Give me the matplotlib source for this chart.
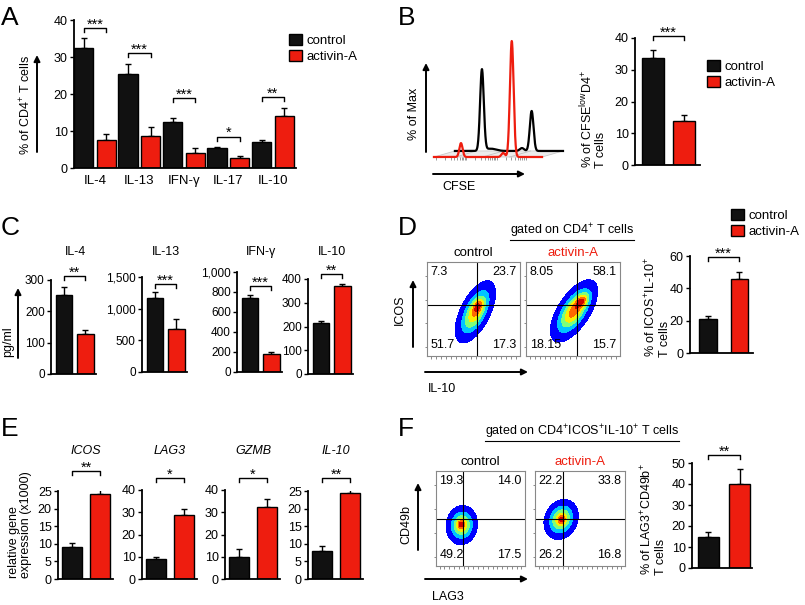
import numpy as np
import matplotlib.pyplot as plt
from matplotlib.patches import Patch, Polygon, FancyArrowPatch
from matplotlib.lines import Line2D

plt.rcParams['font.family'] = ['Liberation Sans', 'DejaVu Sans']
plt.rcParams['mathtext.fontset'] = 'custom'
plt.rcParams['mathtext.rm'] = 'Liberation Sans'
plt.rcParams['mathtext.it'] = 'Liberation Sans:italic'
plt.rcParams['mathtext.bf'] = 'Liberation Sans:bold'

BLACK = '#111111'
RED = '#ee1d0f'
W, H = 805, 605

# ---------------- data ----------------
# A : % of CD4+ T cells
cytokines = ['IL-4', 'IL-13', 'IFN-γ', 'IL-17', 'IL-10']
a_ctrl = [32.3, 25.3, 12.3, 5.3, 7.0]
a_ctrl_err = [2.9, 2.7, 1.3, 0.4, 0.6]
a_act = [7.7, 8.7, 4.0, 2.8, 14.0]
a_act_err = [1.4, 2.3, 1.4, 0.4, 2.3]
a_sig = ['***', '***', '***', '*', '**']
a_sig_y = [37.8, 31.0, 19.0, 8.5, 19.3]

# B : CFSE histograms (peak centre, height, width) and bars
red_peaks = [(25, 12, 1.5), (64, 3.5, 1.6), (72, 100, 1.7)]
black_peaks = [(25, 70, 1.7), (33, 2.0, 5.0), (62, 2.5, 2.0), (71, 34.5, 1.7)]
black_shift = (19.4, 5.2)
b_vals = [33.7, 14.0]
b_err = [2.4, 1.6]
b_sig, b_sig_y = '***', 40.7

# C : pg/ml
c_titles = ['IL-4', 'IL-13', 'IFN-γ', 'IL-10']
c_ctrl = [252, 1172, 740, 215]
c_ctrl_err = [25, 90, 30, 10]
c_act = [128, 678, 180, 372]
c_act_err = [14, 160, 20, 6]
c_sig = ['**', '***', '***', '**']
c_sig_y = [313, 1390, 860, 421]
c_ymax = [300, 1500, 1000, 400]
c_ticks = [[0, 100, 200, 300], [0, 500, 1000, 1500],
           [0, 200, 400, 600, 800, 1000], [0, 100, 200, 300, 400]]

# D : ICOS vs IL-10 flow (quadrant %) and bars
d_ctrl_q = ['7.3', '23.7', '51.7', '17.3']
d_act_q = ['8.05', '58.1', '18.15', '15.7']
d_vals = [21.2, 45.9]
d_err = [1.8, 4.5]
d_sig, d_sig_y = '***', 59.6

# E : relative gene expression (x1000)
e_titles = ['ICOS', 'LAG3', 'GZMB', 'IL-10']
e_ctrl = [9.0, 9.0, 10.1, 8.0]
e_ctrl_err = [1.3, 1.1, 3.5, 1.3]
e_act = [24.1, 28.8, 32.5, 24.3]
e_act_err = [1.6, 2.5, 3.6, 1.2]
e_sig = ['**', '*', '*', '**']
e_sig_y = [30.6, 45.5, 45.5, 28.8]
e_ymax = [25, 40, 40, 25]
e_ticks = [[0, 5, 10, 15, 20, 25], [0, 10, 20, 30, 40],
           [0, 10, 20, 30, 40], [0, 5, 10, 15, 20, 25]]

# F : CD49b vs LAG3 flow and bars
f_ctrl_q = ['19.3', '14.0', '49.2', '17.5']
f_act_q = ['22.2', '33.8', '26.2', '16.8']
f_vals = [15.0, 40.1]
f_err = [2.1, 7.0]
f_sig, f_sig_y = '**', 53.6

# flow blobs: (cx, cy, sigma_major, sigma_minor, angle, weight)
d_ctrl_blob = [(0.52, 0.47, 0.16, 0.07, 63, 1.0), (0.55, 0.53, 0.05, 0.03, 60, 0.35)]
d_act_blob = [(0.51, 0.48, 0.165, 0.074, 57, 1.0), (0.60, 0.59, 0.06, 0.035, 50, 0.45)]
f_ctrl_blob = [(0.29, 0.43, 0.092, 0.078, 80, 1.0), (0.28, 0.44, 0.03, 0.025, 80, 0.35)]
f_act_blob = [(0.29, 0.49, 0.098, 0.08, 60, 1.0), (0.30, 0.49, 0.03, 0.025, 60, 0.35)]

fig = plt.figure(figsize=(8.05, 6.05), dpi=100)


def px_axes(x0, y0, x1, y1):
    return fig.add_axes([x0 / W, 1 - y1 / H, (x1 - x0) / W, (y1 - y0) / H])


def fxy(x, y):
    return (x / W, 1 - y / H)


def arrow(x0, y0, x1, y1):
    fig.add_artist(FancyArrowPatch(fxy(x0, y0), fxy(x1, y1), transform=fig.transFigure,
                                   arrowstyle='-|>', mutation_scale=9, lw=1.4,
                                   color='black', shrinkA=0, shrinkB=0))


def ftext(x, y, s, **kw):
    return fig.text(x / W, 1 - y / H, s, **kw)


def style(ax, ymax, ticks, labelsize=8.5):
    ax.set_ylim(0, ymax)
    for s in ['top', 'right']:
        ax.spines[s].set_visible(False)
    for s in ['left', 'bottom']:
        ax.spines[s].set_linewidth(1.3)
    ax.set_yticks(ticks)
    ax.set_yticklabels(['{:,}'.format(t) for t in ticks])
    ax.tick_params(axis='y', length=3, width=1, pad=1.5, labelsize=labelsize)
    ax.tick_params(axis='x', length=0)
    ax.patch.set_alpha(0)


def bracket(ax, x0, x1, y, txt, leg_px=4):
    ax_h = ax.get_position().height * H
    lo, hi = ax.get_ylim()
    leg = leg_px * (hi - lo) / ax_h
    ax.plot([x0, x0, x1, x1], [y - leg, y, y, y - leg], color='black', lw=1,
            clip_on=False)
    ax.annotate(txt, (0.5 * (x0 + x1), y), xytext=(0, -0.5), textcoords='offset points',
                ha='center', va='baseline', fontsize=10.5, annotation_clip=False)


def pair(ax, vals, errs, width, xlim):
    ax.bar([0, 1], vals, width, color=[BLACK, RED], edgecolor='black', lw=1, zorder=2)
    ax.errorbar([0, 1], vals, yerr=[[0, 0], errs], fmt='none', ecolor='black',
                elinewidth=1, capsize=2.5, capthick=1, zorder=1)
    ax.set_xlim(xlim)
    ax.set_xticks([])


def legend(ax, x, y):
    h = [Patch(facecolor=BLACK, edgecolor='black'), Patch(facecolor=RED, edgecolor='black')]
    ax.legend(h, ['control', 'activin-A'], loc='upper left', bbox_to_anchor=fxy(x, y),
              bbox_transform=fig.transFigure, frameon=False, fontsize=9.5,
              handlelength=1.0, handleheight=0.9, handletextpad=0.35,
              labelspacing=0.25, borderpad=0, borderaxespad=0)


jet = plt.get_cmap('jet')
flow_levels = [0.06, 0.24, 0.42, 0.6, 0.76, 0.9, 1.01]
flow_colors = [jet(v) for v in [0.12, 0.32, 0.5, 0.66, 0.8, 0.93]]


def flow(ax, comps, qx, qy, nums, title, tcolor):
    g = np.linspace(0, 1, 241)
    X, Y = np.meshgrid(g, g)
    Z = np.zeros_like(X)
    for cx, cy, sa, sb, ang, wt in comps:
        t = np.deg2rad(ang)
        u = (X - cx) * np.cos(t) + (Y - cy) * np.sin(t)
        v = -(X - cx) * np.sin(t) + (Y - cy) * np.cos(t)
        Z += wt * np.exp(-0.5 * ((u / sa) ** 2 + (v / sb) ** 2))
    Z /= Z.max()
    ax.contourf(X, Y, Z, levels=flow_levels, colors=flow_colors)
    ax.axvline(qx, color='black', lw=0.8)
    ax.axhline(qy, color='black', lw=0.8)
    ax.set_xlim(0, 1)
    ax.set_ylim(0, 1)
    for s in ax.spines.values():
        s.set_color('#888888')
        s.set_linewidth(0.8)
    ax.set_xticks(np.linspace(0.04, 0.96, 18))
    ax.set_yticks(np.linspace(0.1, 0.85, 4))
    ax.set_xticklabels([])
    ax.set_yticklabels([])
    ax.tick_params(length=1.8, width=0.6, color='#777777')
    kw = dict(fontsize=9, transform=ax.transAxes)
    ax.text(0.04, 0.96, nums[0], ha='left', va='top', **kw)
    ax.text(0.96, 0.96, nums[1], ha='right', va='top', **kw)
    ax.text(0.04, 0.05, nums[2], ha='left', va='bottom', **kw)
    ax.text(0.96, 0.05, nums[3], ha='right', va='bottom', **kw)
    ax.text(0.5, 1.03, title, color=tcolor, ha='center', va='bottom', fontsize=9.5,
            transform=ax.transAxes)


# ---------------- panel letters ----------------
for lt, (x, y) in zip('ABCDEF', [(1, 18), (398, 18), (1, 228), (398, 228), (1, 429), (398, 429)]):
    ftext(x, y, lt, fontsize=19, va='center', ha='left')

# ---------------- A ----------------
axA = px_axes(74, 20, 296, 168)
xa = np.arange(len(cytokines))
axA.bar(xa - 0.255, a_ctrl, 0.43, color=BLACK, edgecolor='black', lw=1, zorder=2)
axA.bar(xa + 0.255, a_act, 0.43, color=RED, edgecolor='black', lw=1, zorder=2)
axA.errorbar(xa - 0.255, a_ctrl, yerr=[np.zeros(5), a_ctrl_err], fmt='none', ecolor='black',
             elinewidth=1, capsize=2.5, capthick=1, zorder=1)
axA.errorbar(xa + 0.255, a_act, yerr=[np.zeros(5), a_act_err], fmt='none', ecolor='black',
             elinewidth=1, capsize=2.5, capthick=1, zorder=1)
axA.set_xlim(-0.47, 4.52)
style(axA, 40, [0, 10, 20, 30, 40], labelsize=9)
axA.set_xticks(xa)
axA.set_xticklabels(cytokines, fontsize=9.5)
axA.tick_params(axis='x', pad=5)
for i in range(5):
    bracket(axA, xa[i] - 0.255, xa[i] + 0.255, a_sig_y[i], a_sig[i])
legend(axA, 289, 34)
ftext(26, 105, '% of CD4$^{+}$ T cells', rotation=90, ha='center', va='center', fontsize=9)
arrow(37, 152, 37, 55)

# ---------------- B histogram ----------------
axH = px_axes(431.8, 37.5, 565.8, 162.8)
axH.set_xlim(-2, 122)
axH.set_ylim(-5, 103)
axH.axis('off')
dx, dy = black_shift
axH.add_patch(Polygon([(0, 0), (100, 0), (100 + dx, dy), (dx, dy)], closed=True,
                      facecolor='#ececec', edgecolor='#c8c8c8', lw=0.6, zorder=0))
for xg in [20, 45, 70]:
    axH.plot([xg, xg + dx], [0, dy], color='#c0c0c0', lw=0.6, zorder=0)
hx = np.linspace(0, 100, 600)
yb = np.zeros_like(hx)
for c, h, w in black_peaks:
    yb += h * np.exp(-0.5 * ((hx - c) / w) ** 2)
yr = np.zeros_like(hx)
for c, h, w in red_peaks:
    yr += h * np.exp(-0.5 * ((hx - c) / w) ** 2)
axH.plot(hx + dx, yb + dy, color='black', lw=1.6, zorder=2)
axH.plot(hx, yr, color=RED, lw=1.6, zorder=3)
tk = np.concatenate([d0 + 28 * np.log10(np.arange(1, 10)) for d0 in [2, 30, 58]])
axH.vlines(tk, -2.2, 0, color='#888888', lw=0.6, zorder=1)
arrow(426, 152, 426, 63)
arrow(433, 174, 525, 174)
ftext(414, 114, '% of Max', rotation=90, ha='center', va='center', fontsize=9)
ftext(442, 187, 'CFSE', ha='left', va='center', fontsize=9)

# ---------------- B bars ----------------
axB = px_axes(635, 38, 699.5, 165)
pair(axB, b_vals, b_err, 0.71, (-0.58, 1.5))
style(axB, 40, [0, 10, 20, 30, 40], labelsize=9)
bracket(axB, 0, 1, b_sig_y, b_sig)
legend(axB, 707, 60)
ftext(593, 168, '% of CFSE$^{\\mathrm{low}}$D4$^{+}$\nT cells', rotation=90, ha='center',
      va='bottom', multialignment='left', fontsize=9, linespacing=1.0)

# ---------------- C ----------------
c_spine = [51, 142, 237, 308]
c_top = [280, 277, 272, 279]
c_bot = [374, 372, 372, 374]
for i in range(4):
    ax = px_axes(c_spine[i], c_top[i], c_spine[i] + 45, c_bot[i])
    pair(ax, [c_ctrl[i], c_act[i]], [c_ctrl_err[i], c_act_err[i]], 0.78, (-0.6, 1.5))
    style(ax, c_ymax[i], c_ticks[i])
    bracket(ax, 0, 1, c_sig_y[i], c_sig[i])
    ftext(c_spine[i] + 24, 252, c_titles[i], ha='center', va='center', fontsize=9)
ftext(8, 342, 'pg/ml', rotation=90, ha='center', va='center', fontsize=9)
arrow(18, 358, 18, 288)

# ---------------- D ----------------
axD1 = px_axes(427, 262, 520, 356)
flow(axD1, d_ctrl_blob, 0.54, 0.54, d_ctrl_q, 'control', 'black')
axD2 = px_axes(526, 262, 620, 356)
flow(axD2, d_act_blob, 0.54, 0.54, d_act_q, 'activin-A', RED)
tD = ftext(572, 231, 'gated on CD4$^{+}$ T cells', ha='center', va='center', fontsize=9)
arrow(413, 347, 413, 280)
arrow(425, 372, 528, 372)
ftext(400, 310, 'ICOS', rotation=90, ha='center', va='center', fontsize=9)
ftext(428, 389, 'IL-10', ha='left', va='center', fontsize=9)

axD = px_axes(690, 256, 753, 353)
pair(axD, d_vals, d_err, 0.55, (-0.58, 1.45))
style(axD, 60, [0, 20, 40, 60], labelsize=9)
bracket(axD, 0, 1, d_sig_y, d_sig)
legend(axD, 731, 209)
ftext(657, 357, '% of ICOS$^{+}$IL-10$^{+}$\nT cells', rotation=90, ha='center',
      va='bottom', multialignment='left', fontsize=9, linespacing=1.0)

# ---------------- E ----------------
e_spine = [58, 142, 225, 308]
e_top = [491, 490, 490, 491]
for i in range(4):
    ax = px_axes(e_spine[i], e_top[i], e_spine[i] + 54.6, 579)
    pair(ax, [e_ctrl[i], e_act[i]], [e_ctrl_err[i], e_act_err[i]], 0.7, (-0.5, 1.45))
    style(ax, e_ymax[i], e_ticks[i], labelsize=9)
    bracket(ax, 0, 1, e_sig_y[i], e_sig[i])
    ftext(e_spine[i] + 28, 451, e_titles[i], ha='center', va='center', fontsize=9,
          style='italic')
ftext(20, 578, 'relative gene\nexpression (x1000)', rotation=90, ha='center', va='bottom',
      multialignment='left', fontsize=9, linespacing=1.0)

# ---------------- F ----------------
axF1 = px_axes(436, 471, 525, 566)
flow(axF1, f_ctrl_blob, 0.30, 0.49, f_ctrl_q, 'control', 'black')
axF2 = px_axes(535, 471, 625, 566)
flow(axF2, f_act_blob, 0.31, 0.49, f_act_q, 'activin-A', RED)
tF = ftext(582, 432, 'gated on CD4$^{+}$ICOS$^{+}$IL-10$^{+}$ T cells', ha='center',
           va='center', fontsize=9)
arrow(418, 550, 418, 483)
arrow(425, 579, 528, 579)
ftext(406, 525, 'CD49b', rotation=90, ha='center', va='center', fontsize=9)
ftext(432, 597, 'LAG3', ha='left', va='center', fontsize=9)

axF = px_axes(692, 463, 752, 568)
pair(axF, f_vals, f_err, 0.68, (-0.53, 1.4))
style(axF, 50, [0, 10, 20, 30, 40, 50], labelsize=9)
bracket(axF, 0, 1, f_sig_y, f_sig)
ftext(653, 575, '% of LAG3$^{+}$CD49b$^{+}$\nT cells', rotation=90, ha='center',
      va='bottom', multialignment='left', fontsize=9, linespacing=1.0)

# underline gating titles
fig.canvas.draw()
inv = fig.transFigure.inverted()
for t in [tD, tF]:
    bb = t.get_window_extent()
    (x0, y0), (x1, _) = inv.transform([(bb.x0, bb.y0 + 0.5), (bb.x1, bb.y0)])
    fig.add_artist(Line2D([x0, x1], [y0, y0], transform=fig.transFigure, color='black', lw=0.8))

fig.savefig('out.png', dpi=100)
